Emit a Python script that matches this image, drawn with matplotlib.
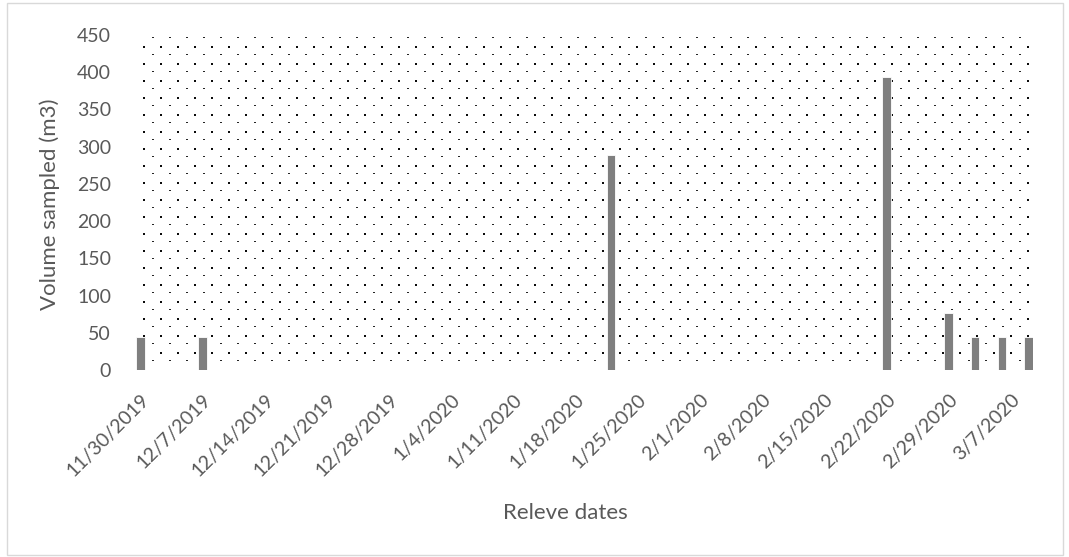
import numpy as np
import pandas as pd
import matplotlib
matplotlib.use("Agg")
import matplotlib.pyplot as plt
import matplotlib.dates as mdates
from matplotlib.patches import Rectangle

# Sampling dates and volumes
sample_dates = ["2019-11-30", "2019-12-07", "2020-01-22", "2020-02-22",
                "2020-02-29", "2020-03-03", "2020-03-06", "2020-03-09"]
volumes = [45, 45, 289, 394, 77, 45, 45, 45]

axis_start = "2019-11-30"
axis_end = "2020-03-09"
tick_step_days = 7
y_max = 450
y_step = 50

x_title = "Releve dates"
y_title = "Volume sampled (m3)"

W_PX, H_PX, DPI = 1069, 557, 100
plt.rcParams["font.family"] = ["Lato", "DejaVu Sans"]
text_gray = "#595959"
bar_gray = "#7f7f7f"

fig = plt.figure(figsize=(W_PX / DPI, H_PX / DPI), dpi=DPI)

# plot area in pixels (left, top, right, bottom)
L, T, R, B = 136, 35, 1033, 370
ax = fig.add_axes([L / W_PX, 1 - B / H_PX, (R - L) / W_PX, (B - T) / H_PX])

# dotted background fill of the plot area
ph, pw = B - T, R - L
pattern = np.ones((ph, pw, 4))
pattern[..., 3] = 0.0
period = 17.0
for j in range(40):
    yb = 11 + period * j
    ys = 2.3 + period * j
    for k in range(70):
        xb = 7.3 + period * k
        xs = 15.8 + period * k
        iy, ix = int(round(yb)), int(round(xb))
        if iy + 2 <= ph - 8 and ix + 2 <= pw:
            pattern[iy:iy + 2, ix:ix + 2, :3] = 0.05
            pattern[iy:iy + 2, ix:ix + 2, 3] = 1.0
        iy, ix = int(round(ys)), int(round(xs))
        if iy + 1 <= ph - 6 and ix + 2 <= pw:
            pattern[iy:iy + 1, ix:ix + 2, :3] = 0.15
            pattern[iy:iy + 1, ix:ix + 2, 3] = 1.0
ax.imshow(pattern, extent=[0, 1, 0, 1], transform=ax.transAxes,
          aspect="auto", interpolation="nearest", zorder=0)

dates = mdates.date2num(pd.to_datetime(sample_dates))
ax.bar(dates, volumes, width=0.95, color=bar_gray, edgecolor="white",
       linewidth=0.6, zorder=3)

x0 = mdates.date2num(pd.Timestamp(axis_start))
x1 = mdates.date2num(pd.Timestamp(axis_end))
ax.set_xlim(x0 - 0.5, x1 + 0.5)
ax.set_ylim(0, y_max)

tick_dates = pd.date_range(axis_start, axis_end, freq=f"{tick_step_days}D")
ax.set_xticks(mdates.date2num(tick_dates))
ax.set_xticklabels([f"{d.month}/{d.day}/{d.year}" for d in tick_dates],
                   rotation=45, ha="right", rotation_mode="anchor")
ax.set_yticks(np.arange(0, y_max + 1, y_step))

ax.tick_params(axis="both", length=0, labelsize=14, colors=text_gray)
ax.tick_params(axis="x", pad=15)
ax.tick_params(axis="y", pad=18)
for s in ax.spines.values():
    s.set_visible(False)

fig.text(565 / W_PX, 1 - 513 / H_PX, x_title, fontsize=16, color=text_gray,
         ha="center", va="center")
fig.text(50 / W_PX, 1 - 204 / H_PX, y_title, fontsize=16, color=text_gray,
         ha="center", va="center", rotation=90)

# light chart border
fig.patches.append(Rectangle((6.5 / W_PX, 2 / H_PX), (1063 - 6.5) / W_PX,
                             (554 - 2) / H_PX, transform=fig.transFigure,
                             fill=False, edgecolor="#d9d9d9", linewidth=1.0))

fig.savefig("out.png", dpi=DPI)
